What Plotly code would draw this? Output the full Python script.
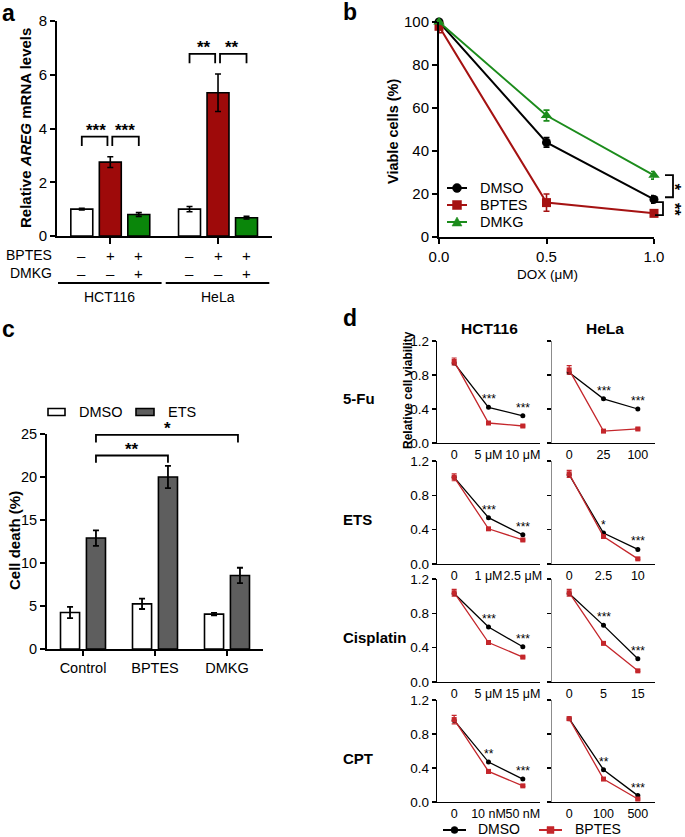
import plotly.graph_objects as go

W, H = 685, 837
FONT = "Liberation Sans, Arial, sans-serif"

# ---------------- data ----------------
# panel a : relative AREG mRNA levels
a_cell_lines = ["HCT116", "HeLa"]
a_bptes_signs = ["–", "+", "+"]
a_dmkg_signs = ["–", "–", "+"]
a_vehicle = [1.00, 1.00]
a_vehicle_err = [0.03, 0.10]
a_bptes = [2.75, 5.33]
a_bptes_err = [0.20, 0.70]
a_bptes_dmkg = [0.80, 0.68]
a_bptes_dmkg_err = [0.07, 0.05]
a_sig = [["***", "***"], ["**", "**"]]
a_yticks = [0, 2, 4, 6, 8]

# panel b : viable cells vs DOX
b_dox = [0.0, 0.5, 1.0]
b_dox_labels = ["0.0", "0.5", "1.0"]
b_dmso = [100, 44, 17.5]
b_dmso_err = [1.0, 2.2, 1.8]
b_bptes = [98, 16, 11]
b_bptes_err = [3.0, 4.0, 1.0]
b_dmkg = [100, 56.5, 28.7]
b_dmkg_err = [1.0, 2.5, 1.8]
b_sig = ["*", "**"]
b_yticks = [0, 20, 40, 60, 80, 100]

# panel c : cell death
c_groups = ["Control", "BPTES", "DMKG"]
c_dmso = [4.25, 5.25, 4.05]
c_dmso_err = [0.65, 0.6, 0.15]
c_ets = [12.9, 20.0, 8.55]
c_ets_err = [0.9, 1.3, 0.9]
c_sig = ["**", "*"]
c_yticks = [0, 5, 10, 15, 20, 25]

# panel d : relative cell viability
d_drugs = ["5-Fu", "ETS", "Cisplatin", "CPT"]
d_cells = ["HCT116", "HeLa"]
d_hct_ticks = [["0", "5 μM", "10 μM"], ["0", "1 μM", "2.5 μM"],
               ["0", "5 μM", "15 μM"], ["0", "10 nM", "50 nM"]]
d_hela_ticks = [["0", "25", "100"], ["0", "2.5", "10"],
                ["0", "5", "15"], ["0", "100", "500"]]
d_hct_dmso = [[0.94, 0.42, 0.32], [1.01, 0.54, 0.34],
              [1.03, 0.64, 0.41], [0.96, 0.47, 0.27]]
d_hct_bptes = [[0.96, 0.235, 0.20], [1.01, 0.41, 0.28],
               [1.04, 0.46, 0.29], [0.97, 0.36, 0.19]]
d_hct_bptes_err = [[0.04, 0.01, 0.01], [0.04, 0.01, 0.01],
                   [0.04, 0.02, 0.01], [0.05, 0.02, 0.01]]
d_hela_dmso = [[0.83, 0.52, 0.40], [1.04, 0.36, 0.17],
               [1.03, 0.66, 0.27], [0.98, 0.38, 0.075]]
d_hela_bptes = [[0.86, 0.14, 0.165], [1.05, 0.32, 0.06],
                [1.04, 0.45, 0.13], [0.98, 0.27, 0.035]]
d_hela_bptes_err = [[0.05, 0.01, 0.01], [0.04, 0.01, 0.01],
                    [0.04, 0.01, 0.01], [0.02, 0.01, 0.01]]
d_hct_stars = [["***", "***"], ["***", "***"], ["***", "***"], ["**", "***"]]
d_hela_stars = [["***", "***"], ["*", "***"], ["***", "***"], ["**", "***"]]
d_yticks = [0.0, 0.4, 0.8, 1.2]

# ---------------- styles / layout helpers ----------------
RED_A = "#9E0A0A"
GREEN_A = "#0A860A"
RED_B = "#A51212"
GREEN_B = "#1C8C1C"
RED_D = "#C4262B"
GREY_C = "#5E5E5E"


def xdom(l, r):
    return [l / W, r / W]


def ydom(t, b):
    return [1 - b / H, 1 - t / H]


def lin(v, dom, rng):
    return dom[0] + (v - rng[0]) / (rng[1] - rng[0]) * (dom[1] - dom[0])


def X(p):
    return p / W


def Y(p):
    return 1 - p / H


fig = go.Figure()
shapes = []
annotations = []


def text(x, y, s, size=14, bold=False, xanchor="center", yanchor="middle",
         xref="paper", yref="paper", angle=0, yshift=0, xshift=0, color="black"):
    if bold:
        s = "<b>" + s + "</b>"
    annotations.append(dict(x=x, y=y, text=s, xref=xref, yref=yref, showarrow=False,
                            xanchor=xanchor, yanchor=yanchor, textangle=angle,
                            yshift=yshift, xshift=xshift,
                            font=dict(size=size, color=color, family=FONT)))


def bracket(x0, x1, ylow, ytop, width=1.8):
    shapes.append(dict(type="path", xref="paper", yref="paper",
                       path=f"M{x0},{ylow} L{x0},{ytop} L{x1},{ytop} L{x1},{ylow}",
                       line=dict(color="black", width=width)))


def vbracket(x_in, x_out, y0, y1, width=1.8):
    shapes.append(dict(type="path", xref="paper", yref="paper",
                       path=f"M{x_in},{y0} L{x_out},{y0} L{x_out},{y1} L{x_in},{y1}",
                       line=dict(color="black", width=width)))


def legend_item(x0, x1, yc, color, symbol, size, label, fsize, lw=2, tx=None, ty=None):
    """legend key drawn in pixel units of the page"""
    shapes.append(dict(type="line", xref="paper", yref="paper", x0=X(x0), x1=X(x1),
                       y0=Y(yc), y1=Y(yc), line=dict(color=color, width=lw)))
    xm, r = (x0 + x1) / 2, size / 2
    if symbol == "circle":
        shapes.append(dict(type="circle", xref="paper", yref="paper",
                           x0=X(xm - r), x1=X(xm + r), y0=Y(yc + r), y1=Y(yc - r),
                           fillcolor=color, line=dict(color=color, width=0.5)))
    elif symbol == "square":
        shapes.append(dict(type="rect", xref="paper", yref="paper",
                           x0=X(xm - r), x1=X(xm + r), y0=Y(yc + r), y1=Y(yc - r),
                           fillcolor=color, line=dict(color=color, width=0.5)))
    else:
        shapes.append(dict(type="path", xref="paper", yref="paper",
                           path=f"M{X(xm - r)},{Y(yc + r * 0.8)} L{X(xm + r)},{Y(yc + r * 0.8)} "
                                f"L{X(xm)},{Y(yc - r)} Z",
                           fillcolor=color, line=dict(color=color, width=0.5)))
    text(X(tx if tx is not None else x1 + 11), Y(ty if ty is not None else yc), label,
         size=fsize, xanchor="left")


def legend_box(x0, x1, yc, h, color, label, fsize, tx):
    shapes.append(dict(type="rect", xref="paper", yref="paper", x0=X(x0), x1=X(x1),
                       y0=Y(yc + h / 2), y1=Y(yc - h / 2), fillcolor=color,
                       line=dict(color="black", width=1.6)))
    text(X(tx), Y(yc), label, size=fsize, xanchor="left")


def axis_style(lw=2, tl=5, size=14):
    return dict(showline=True, linecolor="black", linewidth=lw, ticks="outside",
                ticklen=tl, tickwidth=lw, tickcolor="black", showgrid=False,
                zeroline=False, automargin=False,
                tickfont=dict(size=size, family=FONT, color="black"))


# ================= panel a =================
A_XD = xdom(57, 272)
A_YD = ydom(21, 236)
A_XR = [0, 7.544]
A_YR = [0, 8]
A_BAR_W = 0.77


def a_pos(g, i):
    return 0.87 + g * 3.78 + i


a_series = [(a_vehicle, a_vehicle_err, "white"),
            (a_bptes, a_bptes_err, RED_A),
            (a_bptes_dmkg, a_bptes_dmkg_err, GREEN_A)]
for i, (vals, errs, col) in enumerate(a_series):
    fig.add_trace(go.Bar(
        x=[a_pos(g, i) for g in range(len(a_cell_lines))], y=vals, width=A_BAR_W,
        marker=dict(color=col, line=dict(color="black", width=1.6)),
        error_y=dict(type="data", array=errs, color="black", thickness=1.6, width=3),
        xaxis="x", yaxis="y", showlegend=False, hoverinfo="y"))

fig.update_layout(
    xaxis=dict(domain=A_XD, range=A_XR, anchor="y",
               tickvals=[a_pos(g, 1) for g in range(2)], ticktext=["", ""],
               **axis_style(2, 6)),
    yaxis=dict(domain=A_YD, range=A_YR, anchor="x", tickvals=a_yticks,
               **axis_style(2, 5, 15)),
)

for g in range(len(a_cell_lines)):
    tops = [s[0][g] + s[1][g] for s in a_series]
    legs = max(tops) + 0.4
    top = legs + 0.35
    p = [a_pos(g, i) for i in range(3)]
    yl, yt = lin(legs, A_YD, A_YR), lin(top, A_YD, A_YR)
    bracket(lin(p[0], A_XD, A_XR), lin(p[1] - 0.1, A_XD, A_XR), yl, yt)
    bracket(lin(p[1] + 0.07, A_XD, A_XR), lin(p[2], A_XD, A_XR), yl, yt)
    text((p[0] + p[1]) / 2, top, a_sig[g][0], size=17, bold=True, xref="x", yref="y",
         yanchor="bottom", yshift=-5)
    text((p[1] + p[2]) / 2, top, a_sig[g][1], size=17, bold=True, xref="x", yref="y",
         yanchor="bottom", yshift=-5)
    for i in range(3):
        text(p[i], Y(255), a_bptes_signs[i], size=15, xref="x")
        text(p[i], Y(273), a_dmkg_signs[i], size=15, xref="x")
    x0 = lin(p[0] - 0.87, A_XD, A_XR) + X(1)
    x1 = lin(p[2] + 0.87, A_XD, A_XR) - X(2)
    shapes.append(dict(type="line", xref="paper", yref="paper", x0=x0, x1=x1,
                       y0=Y(283), y1=Y(283), line=dict(color="black", width=1.8)))
    text((x0 + x1) / 2, Y(297), a_cell_lines[g], size=14)

text(X(54), Y(255), "BPTES", size=14, xanchor="right")
text(X(54), Y(273), "DMKG", size=14, xanchor="right")
text(X(26), Y(128), "Relative <i>AREG</i> mRNA levels", size=15, bold=True, angle=-90)
text(X(0), Y(13), "a", size=23, bold=True, xanchor="left")

# ================= panel b =================
B_XD = xdom(439, 654)
B_YD = ydom(22, 237)
B_XR = [0, 1.0]
B_YR = [0, 100]
b_series = [("DMSO", b_dmso, b_dmso_err, "black", "circle", 9),
            ("BPTES", b_bptes, b_bptes_err, RED_B, "square", 9),
            ("DMKG", b_dmkg, b_dmkg_err, GREEN_B, "triangle-up", 10)]
for name, vals, errs, col, sym, ms in b_series:
    fig.add_trace(go.Scatter(
        x=b_dox, y=vals, name=name, mode="lines+markers",
        line=dict(color=col, width=2), marker=dict(symbol=sym, size=ms, color=col),
        error_y=dict(type="data", array=errs, color=col, thickness=1.6, width=3),
        xaxis="x2", yaxis="y2", showlegend=False, cliponaxis=False))

fig.update_layout(
    xaxis2=dict(domain=B_XD, range=B_XR, anchor="y2", tickvals=b_dox,
                ticktext=b_dox_labels, **axis_style(2, 5, 15)),
    yaxis2=dict(domain=B_YD, range=B_YR, anchor="x2", tickvals=b_yticks,
                **axis_style(2, 5, 15)),
)
for k, (name, vals, errs, col, sym, ms) in enumerate(b_series):
    legend_item(447, 467, 188 + 17 * k, col, sym, ms, name, 14.5, lw=2, tx=478)

ybp = lambda v: lin(v, B_YD, B_YR)
vbracket(X(665), X(673), ybp(b_dmkg[2] + 0.1), ybp(b_dmso[2] + 1.0))
vbracket(X(655), X(663), ybp(b_dmso[2] - 1.3), ybp(b_bptes[2] - 0.8))
text(1.0, ybp((b_dmkg[2] + b_dmso[2]) / 2), b_sig[0], size=16, bold=True, angle=90,
     xanchor="right")
text(1.0, ybp((b_dmso[2] + b_bptes[2]) / 2 - 1.5), b_sig[1], size=16, bold=True, angle=90,
     xanchor="right")
text(X(547), Y(274), "DOX (μM)", size=13.5)
text(X(393), Y(132), "Viable cells (%)", size=14.5, bold=True, angle=-90)
text(X(341), Y(12), "b", size=23, bold=True, xanchor="left")

# ================= panel c =================
C_XD = xdom(47, 263)
C_YD = ydom(434, 649)
C_XR = [-0.5, 2.5]
C_YR = [0, 25]
C_OFF = 0.18
C_BW = 0.265
c_series = [("DMSO", c_dmso, c_dmso_err, "white", -C_OFF),
            ("ETS", c_ets, c_ets_err, GREY_C, C_OFF)]
for name, vals, errs, col, off in c_series:
    fig.add_trace(go.Bar(
        x=[i + off for i in range(len(c_groups))], y=vals, width=C_BW, name=name,
        marker=dict(color=col, line=dict(color="black", width=1.6)),
        error_y=dict(type="data", array=errs, color="black", thickness=1.8, width=3),
        xaxis="x3", yaxis="y3", showlegend=False))

fig.update_layout(
    xaxis3=dict(domain=C_XD, range=C_XR, anchor="y3",
                tickvals=list(range(len(c_groups))), ticktext=c_groups,
                **axis_style(2, 5, 14.5)),
    yaxis3=dict(domain=C_YD, range=C_YR, anchor="x3", tickvals=c_yticks,
                **axis_style(2, 5, 14.5)),
)
legend_box(48, 65, 412, 7, "white", c_series[0][0], 14.5, 77)
legend_box(136, 154, 412, 7, GREY_C, c_series[1][0], 14.5, 166)

xc = lambda v: lin(v, C_XD, C_XR)
yc = lambda v: lin(v, C_YD, C_YR)
ets_tops = [v + e for v, e in zip(c_ets, c_ets_err)]
legs1 = max(ets_tops[0], ets_tops[1]) + 0.35
top1 = legs1 + 0.85
legs2 = top1 + 1.5
top2 = legs2 + 0.9
bracket(xc(0 + C_OFF), xc(1 + C_OFF), yc(legs1), yc(top1))
bracket(xc(0 + C_OFF), xc(2 + C_OFF) - X(2), yc(legs2), yc(top2))
text(xc((0 + 1) / 2 + C_OFF), yc(top1), c_sig[0], size=17, bold=True, yanchor="bottom", yshift=-5)
text(xc((0 + 2) / 2 + C_OFF), yc(top2), c_sig[1], size=17, bold=True, yanchor="bottom", yshift=-5)
text(X(14), Y(541), "Cell death (%)", size=15, bold=True, angle=-90)
text(X(0), Y(329), "c", size=23, bold=True, xanchor="left")

# ================= panel d =================
D_COLS = [(437, 540), (552, 655)]
D_ROWS = [(341, 443), (461, 564), (579, 682), (700, 802)]
D_XR = [-0.5, 2.5]
D_YR = [0, 1.2]
d_sets = [(d_hct_dmso, d_hct_bptes, d_hct_bptes_err, d_hct_ticks, d_hct_stars),
          (d_hela_dmso, d_hela_bptes, d_hela_bptes_err, d_hela_ticks, d_hela_stars)]
layout_axes = {}
for r in range(len(d_drugs)):
    for c in range(len(d_cells)):
        k = 4 + r * 2 + c
        xa, ya = f"x{k}", f"y{k}"
        dmso, bptes, berr, ticks, stars = d_sets[c]
        fig.add_trace(go.Scatter(
            x=[0, 1, 2], y=dmso[r], name="DMSO", mode="lines+markers",
            line=dict(color="black", width=1.3), marker=dict(symbol="circle", size=5, color="black"),
            xaxis=xa, yaxis=ya, showlegend=False, cliponaxis=False))
        fig.add_trace(go.Scatter(
            x=[0, 1, 2], y=bptes[r], name="BPTES", mode="lines+markers",
            line=dict(color=RED_D, width=1.3), marker=dict(symbol="square", size=5, color=RED_D),
            error_y=dict(type="data", array=berr[r], color=RED_D, thickness=1.2, width=2.5),
            xaxis=xa, yaxis=ya, showlegend=False, cliponaxis=False))
        xs = axis_style(1.3, 4, 12.5)
        xs.update(ticks="", domain=xdom(*D_COLS[c]), range=D_XR, anchor=ya,
                  tickvals=[0, 1, 2], ticktext=ticks[r], tickangle=0)
        ys = axis_style(1.3, 4, 13.5)
        ys.update(domain=ydom(*D_ROWS[r]), range=D_YR, anchor=xa,
                  tickvals=d_yticks, tickformat=".1f", showticklabels=(c == 0))
        if c == 1:
            ys.update(linecolor="#8C8C8C")
        layout_axes[f"xaxis{k}"] = xs
        layout_axes[f"yaxis{k}"] = ys
        for j in range(2):
            text(j + 1, dmso[r][j + 1], stars[r][j], size=12, xref=xa, yref=ya,
                 yanchor="bottom", yshift=-1)
    t, b = D_ROWS[r]
    text(X(341), Y((t + b) / 2 + 7), d_drugs[r], size=15, bold=True, xanchor="left")

fig.update_layout(**layout_axes)
for c in range(len(d_cells)):
    l, rr = D_COLS[c]
    text(X((l + rr) / 2 + 1), Y(328), d_cells[c], size=15.5, bold=True)
text(X(408), Y(390), "Relative cell viability", size=12, bold=True, angle=-90)
text(X(341), Y(318), "d", size=23, bold=True, xanchor="left")

legend_item(443, 466, 830, "black", "circle", 7, "DMSO", 14, lw=2, tx=476, ty=829)
legend_item(539, 562, 830, RED_D, "square", 7, "BPTES", 14, lw=2, tx=573, ty=829)

fig.update_layout(
    width=W, height=H, margin=dict(l=0, r=0, t=0, b=0),
    paper_bgcolor="white", plot_bgcolor="rgba(0,0,0,0)",
    barmode="overlay", showlegend=False,
    font=dict(family=FONT, color="black"),
    shapes=shapes, annotations=annotations,
)

fig.write_html("out.html",
               config={"displayModeBar": False, "staticPlot": True},
               post_script="document.body.style.margin='0px';"
                           "document.body.style.overflow='hidden';")
